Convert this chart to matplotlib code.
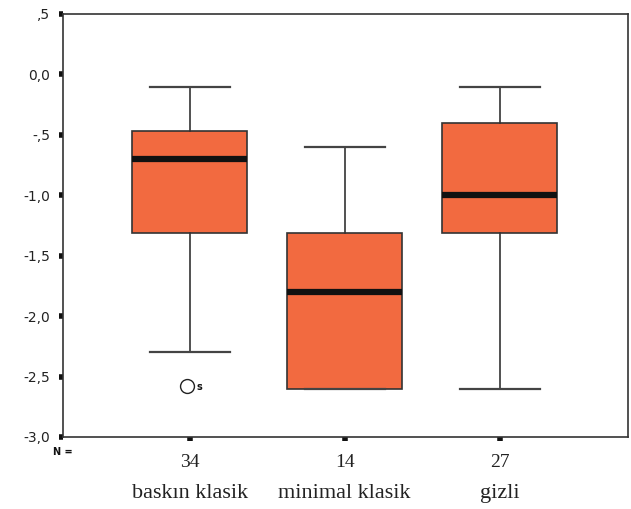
import matplotlib
matplotlib.use("Agg")
import matplotlib.pyplot as plt

categories = ["baskın klasik", "minimal klasik", "gizli"]
counts = ["34", "14", "27"]
whislo = [-2.3, -2.6, -2.6]
q1 = [-1.31, -2.6, -1.31]
med = [-0.7, -1.8, -1.0]
q3 = [-0.47, -1.31, -0.4]
whishi = [-0.1, -0.6, -0.1]
outliers = [[-2.58], [], []]
outlier_labels = [["s"], [], []]
yticks = [0.5, 0.0, -0.5, -1.0, -1.5, -2.0, -2.5, -3.0]
yticklabels = [",5", "0,0", "-,5", "-1,0", "-1,5", "-2,0", "-2,5", "-3,0"]

fig = plt.figure(figsize=(6.31, 5.09), dpi=100)
ax = fig.add_axes([0.0998, 0.1415, 0.8952, 0.831])

stats = []
for i in range(3):
    stats.append(dict(whislo=whislo[i], q1=q1[i], med=med[i], q3=q3[i],
                      whishi=whishi[i], fliers=[]))
pos = [1, 2, 3]
ax.bxp(stats, positions=pos, widths=0.742, patch_artist=True, showfliers=False,
       boxprops=dict(facecolor="#F26A40", edgecolor="#333333", linewidth=1.2),
       medianprops=dict(color="#111111", linewidth=4.5, solid_capstyle="butt"),
       whiskerprops=dict(color="#333333", linewidth=1.2),
       capprops=dict(color="#444444", linewidth=1.6), capwidths=0.516)

for i in range(3):
    for v, lab in zip(outliers[i], outlier_labels[i]):
        ax.plot([pos[i] - 0.02], [v], marker="o", markersize=10, markerfacecolor="white",
                markeredgecolor="#222222", markeredgewidth=1.0, linestyle="none")
        ax.text(pos[i] + 0.045, v - 0.01, lab, fontsize=7, fontweight="bold",
                va="center", ha="left", color="#111111")

ax.set_xlim(0.182, 3.828)
ax.set_ylim(-3.0, 0.5)
ax.set_yticks(yticks)
ax.set_yticklabels(yticklabels, fontsize=10, color="#222222")
ax.set_xticks(pos)
ax.set_xticklabels(counts, fontsize=14, family="Liberation Serif", color="#222222")
ax.tick_params(axis="both", direction="out", length=3, width=4, color="#111111")
ax.tick_params(axis="y", pad=6)
ax.tick_params(axis="x", pad=9)
for sp in ax.spines.values():
    sp.set_color("#333333")
    sp.set_linewidth(1.2)

for i, c in enumerate(categories):
    ax.text(pos[i], -3.0 - 0.47, c, fontsize=16, family="Liberation Serif",
            ha="center", va="center", color="#222222")
ax.text(0.18, -3.125, "N =", fontsize=7, fontweight="bold", ha="center", va="center",
        color="#111111")

fig.savefig("out.png", dpi=100)
